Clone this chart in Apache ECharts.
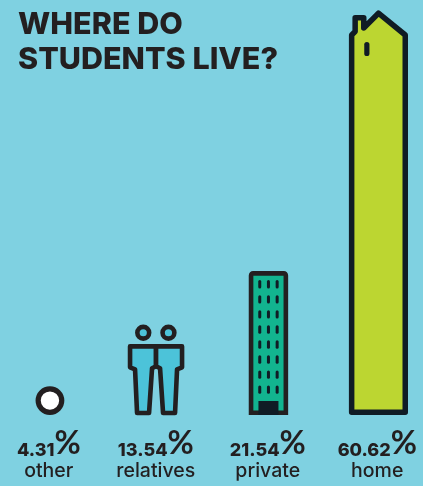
<!DOCTYPE html>
<html><head><meta charset="utf-8">
<style>html,body{margin:0;padding:0;background:#7fd1e1;overflow:hidden;width:423px;height:486px}#c{width:438px;height:486px;margin-left:-6px}</style>
<script src="https://cdn.jsdelivr.net/npm/echarts@6/dist/echarts.min.js"></script>
</head><body><div id="c"></div>
<script>
const categories = ['other', 'relatives', 'private', 'home'];
const shares = [4.31, 13.54, 21.54, 60.62];
const titleLines = ['WHERE DO', 'STUDENTS LIVE?'];

const INK = '#231f20', NAVY = '#101c25';
const nudge = [1.2, -2.2, 0.7, 1.2];

function poly(points, style) {
  return { type: 'polygon', shape: { points }, style };
}
const painters = {
  other(cx, top, bottom) {
    const r = (bottom - top) / 2;
    return [{ type: 'circle', shape: { cx, cy: top + r, r: r - 2.6 },
      style: { fill: '#fff', stroke: INK, lineWidth: 5.2 } }];
  },
  relatives(cx, top, bottom) {
    const h = bottom - top, s = h / 91;
    const y = v => top + v * s;
    const body = [[-26,22],[0,22],[0,42],[-4,44],[-7,89],[-19,89],[-21,45],[-26,43]];
    const mirrored = body.map(p => [-p[0], p[1]]);
    const els = [];
    [body, mirrored].forEach(b => els.push(poly(b.map(p => [cx + p[0], y(p[1])]),
      { fill: '#4cc3d9', stroke: INK, lineWidth: 4.6, lineJoin: 'round' })));
    [-12.8, 12.4].forEach(dx => els.push({ type: 'circle',
      shape: { cx: cx + dx, cy: top + 8.2, r: 5.9 },
      style: { fill: '#4cc3d9', stroke: INK, lineWidth: 4.6 } }));
    return els;
  },
  private(cx, top, bottom) {
    const els = [{ type: 'rect',
      shape: { x: cx - 17.4, y: top + 2.3, width: 34.8, height: bottom - top - 4.6, r: [2, 2, 0, 0] },
      style: { fill: '#12b48f', stroke: INK, lineWidth: 4.6 } }];
    for (let row = 0; row < 8; row++) for (let col = -1; col <= 1; col++) {
      els.push({ type: 'rect',
        shape: { x: cx + col * 8.7 - 1.5, y: top + 9 + row * 15.05, width: 3, height: 8.4, r: 1.5 },
        style: { fill: NAVY } });
    }
    els.push({ type: 'rect', shape: { x: cx - 10, y: bottom - 14, width: 20, height: 14 },
      style: { fill: NAVY } });
    return els;
  },
  home(cx, top, bottom) {
    const L = cx - 26.8, R = cx + 26.8;
    const outline = [
      [L, bottom - 2.7], [L, top + 25], [cx - 23.3, top + 21.5], [cx - 23.3, top + 7.7],
      [cx - 14.7, top + 7.7], [cx - 14.7, top + 18], [cx, top + 3.2], [R, top + 25], [R, bottom - 2.7]
    ];
    return [
      poly(outline, { fill: '#bcd631', stroke: NAVY, lineWidth: 5.5, lineJoin: 'round' }),
      { type: 'rect', shape: { x: cx - 14.2, y: top + 32, width: 5.2, height: 14, r: 2.6 }, style: { fill: NAVY } }
    ];
  }
};

const chart = echarts.init(document.getElementById('c'));
chart.setOption({
  animation: false,
  backgroundColor: '#7fd1e1',
  title: {
    text: titleLines.join('\n'), left: 24, top: 7, padding: 0,
    textStyle: { fontFamily: 'Inter', fontWeight: 800, fontSize: 30.5, lineHeight: 35.5, color: INK }
  },
  grid: { left: 0, right: 0, top: 10, bottom: 71 },
  xAxis: {
    type: 'category', data: categories,
    axisLine: { show: false }, axisTick: { show: false },
    axisLabel: {
      interval: 0, margin: 19, hideOverlap: false,
      formatter: (name, i) => {
        const gap = name === 'relatives' ? '{gap| }' : '';
        return `{num|${shares[i].toFixed(2)}}{pct|%}${gap}\n{cat|${name}}${gap}`;
      },
      rich: {
        num: { fontFamily: 'Inter', fontWeight: 800, fontSize: 18, color: INK, lineHeight: 19, verticalAlign: 'bottom' },
        pct: { fontFamily: 'Lato', fontWeight: 700, fontSize: 32, color: INK, lineHeight: 26, verticalAlign: 'bottom' },
        cat: { fontFamily: 'Inter', fontWeight: 500, fontSize: 19.5, color: INK, lineHeight: 22 },
        gap: { width: 5, fontSize: 10 }
      }
    }
  },
  yAxis: { type: 'value', min: 0, max: 60.62, show: false, splitLine: { show: false } },
  series: [{
    type: 'custom',
    data: shares,
    clip: false,
    renderItem(params, api) {
      const i = params.dataIndex;
      const base = api.coord([i, 0]);
      const peak = api.coord([i, api.value(0)]);
      const children = painters[categories[i]](base[0] + nudge[i], peak[1], base[1]);
      return { type: 'group', children };
    },
    encode: { x: -1, y: 0 }
  }]
});
</script></body></html>
